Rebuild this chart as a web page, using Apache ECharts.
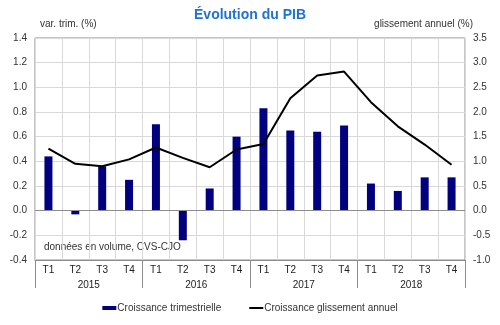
<!DOCTYPE html>
<html>
<head>
<meta charset="utf-8">
<script src="https://cdn.jsdelivr.net/npm/echarts@6/dist/echarts.min.js"></script>
<style>
  html, body { margin: 0; padding: 0; background: #fff; }
  #chart { width: 500px; height: 325px; }
</style>
</head>
<body>
<div id="chart"></div>
<script>
// Quarters and years on the horizontal axis
const quarters = ['T1','T2','T3','T4','T1','T2','T3','T4','T1','T2','T3','T4','T1','T2','T3','T4'];
const years = ['2015', '2016', '2017', '2018'];

// Quarterly growth (%), left axis
const quarterlyGrowth = [0.44, -0.03, 0.36, 0.25, 0.70, -0.24, 0.18, 0.60, 0.83, 0.65, 0.64, 0.69, 0.22, 0.16, 0.27, 0.27];
// Year-on-year growth (%), right axis
const annualGrowth = [1.26, 0.95, 0.90, 1.04, 1.28, 1.07, 0.88, 1.24, 1.35, 2.28, 2.74, 2.82, 2.20, 1.71, 1.34, 0.93];

const leftTicks = { min: -0.4, max: 1.4, interval: 0.2 };
const rightTicks = { min: -1.0, max: 3.5, interval: 0.5 };

const FONT = 'Liberation Sans, Arial, sans-serif';
const chart = echarts.init(document.getElementById('chart'), null, { renderer: 'canvas' });

chart.setOption({
  backgroundColor: '#fff',
  animation: false,
  textStyle: { fontFamily: FONT },
  title: {
    text: 'Évolution du PIB',
    left: 'center',
    top: 3,
    textStyle: { color: '#1f73d3', fontSize: 14, fontWeight: 'bold', fontFamily: FONT }
  },
  grid: {
    left: 35, right: 35, top: 38, bottom: 65,
    show: true, borderColor: '#8c8c8c', borderWidth: 1
  },
  legend: {
    bottom: 7,
    left: 'center',
    itemGap: 28,
    itemWidth: 14,
    itemHeight: 4,
    textStyle: { fontSize: 10, color: '#333', fontFamily: FONT, padding: [0, 0, 0, -4] },
    data: [
      { name: 'Croissance trimestrielle', icon: 'rect' },
      { name: 'Croissance glissement annuel', icon: 'path://M0,0H14V2H0Z' }
    ]
  },
  xAxis: [
    {
      type: 'category',
      data: quarters,
      boundaryGap: true,
      axisLine: { onZero: false, lineStyle: { color: '#8c8c8c' } },
      axisTick: { show: false },
      axisLabel: { color: '#222', fontSize: 10, margin: 5 },
      splitLine: { show: true, interval: 0, lineStyle: { color: '#d9d9d9', width: 1 } }
    },
    {
      type: 'category',
      data: years,
      position: 'bottom',
      boundaryGap: true,
      axisLine: { show: false, onZero: false },
      axisTick: { show: true, length: 28, lineStyle: { color: '#8c8c8c' } },
      axisLabel: { color: '#222', fontSize: 10, margin: 20 },
      splitLine: { show: false }
    }
  ],
  yAxis: [
    {
      type: 'value',
      min: leftTicks.min, max: leftTicks.max, interval: leftTicks.interval,
      axisLine: { show: false },
      axisTick: { show: false },
      axisLabel: { color: '#333', fontSize: 10, margin: 8, formatter: v => v.toFixed(1) },
      splitLine: { show: true, lineStyle: { color: '#d9d9d9', width: 1 } }
    },
    {
      type: 'value',
      min: rightTicks.min, max: rightTicks.max, interval: rightTicks.interval,
      axisLine: { show: false },
      axisTick: { show: false },
      axisLabel: { color: '#333', fontSize: 10, margin: 8, formatter: v => v.toFixed(1) },
      splitLine: { show: false }
    }
  ],
  graphic: [
    { type: 'text', left: 40, top: 19, style: { text: 'var. trim. (%)', fill: '#333', font: '10px ' + FONT } },
    { type: 'text', right: 27, top: 19, style: { text: 'glissement annuel (%)', fill: '#333', font: '10px ' + FONT } },
    { type: 'text', left: 44, top: 242, style: { text: 'données en volume, CVS-CJO', fill: '#333', font: '10px ' + FONT } }
  ],
  series: [
    {
      name: 'Croissance trimestrielle',
      type: 'bar',
      xAxisIndex: 0,
      yAxisIndex: 0,
      data: quarterlyGrowth,
      barWidth: 8,
      itemStyle: { color: '#000080' },
      markLine: {
        silent: true,
        symbol: 'none',
        label: { show: false },
        lineStyle: { color: '#8c8c8c', type: 'solid', width: 1 },
        data: [{ yAxis: 0 }]
      }
    },
    {
      name: 'Croissance glissement annuel',
      type: 'line',
      xAxisIndex: 0,
      yAxisIndex: 1,
      data: annualGrowth,
      symbol: 'none',
      lineStyle: { color: '#000', width: 2 },
      itemStyle: { color: '#000' }
    }
  ]
});
</script>
</body>
</html>
